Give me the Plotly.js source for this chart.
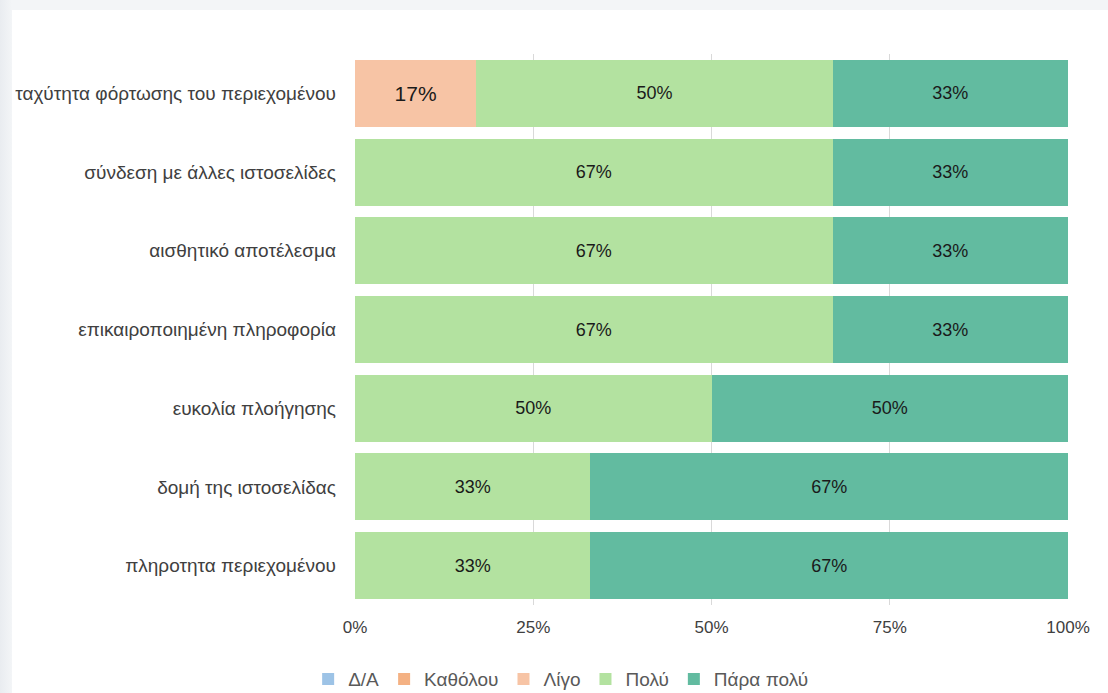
<!DOCTYPE html>
<html><head><meta charset="utf-8">
<script src="https://cdn.plot.ly/plotly-3.0.1.min.js"></script>
<style>
html,body{margin:0;padding:0;width:1108px;height:693px;overflow:hidden;
background:linear-gradient(90deg,#e9ecf0 0px,#f3f5f7 12px,#f3f5f7 100%);}
#card{position:absolute;left:12px;top:10px;width:1096px;height:683px;background:#fff;}
#chart{position:absolute;left:0;top:0;width:1108px;height:693px;}
</style></head><body>
<div id="card"></div>
<div id="chart"></div>
<script>
const categories = [
  "ταχύτητα φόρτωσης του περιεχομένου",
  "σύνδεση με άλλες ιστοσελίδες",
  "αισθητικό αποτέλεσμα",
  "επικαιροποιημένη πληροφορία",
  "ευκολία πλοήγησης",
  "δομή της ιστοσελίδας",
  "πληροτητα περιεχομένου"
];
const seriesNames = ["Δ/Α", "Καθόλου", "Λίγο", "Πολύ", "Πάρα πολύ"];
const valDA      = [0, 0, 0, 0, 0, 0, 0];
const valKatholou= [0, 0, 0, 0, 0, 0, 0];
const valLigo    = [17, 0, 0, 0, 0, 0, 0];
const valPoly    = [50, 67, 67, 67, 50, 33, 33];
const valParaPoly= [33, 33, 33, 33, 50, 67, 67];
const tickVals = [0, 25, 50, 75, 100];
const tickText = ["0%", "25%", "50%", "75%", "100%"];

const colors = ["#9DC3E6", "#F4B183", "#F7C4A5", "#B3E2A0", "#62BBA0"];
const allVals = [valDA, valKatholou, valLigo, valPoly, valParaPoly];

const traces = allVals.map((vals, i) => ({
  type: "bar",
  orientation: "h",
  name: seriesNames[i],
  y: categories,
  x: vals,
  marker: {color: colors[i], line: {width: 0}},
  text: vals.map(v => v > 0 ? v + "%" : ""),
  textposition: "inside",
  insidetextanchor: "middle",
  textfont: {family: "Liberation Sans, Arial, sans-serif", size: vals.map(v => v > 0 && v < 20 ? 21 : 18), color: "#1a1a1a"},
  constraintext: "none",
  hoverinfo: "skip"
}));

const layout = {
  width: 1108, height: 693,
  barmode: "stack",
  bargap: 0.15,
  paper_bgcolor: "rgba(0,0,0,0)",
  plot_bgcolor: "rgba(0,0,0,0)",
  margin: {l: 355, r: 40, t: 54, b: 88},
  font: {family: "Liberation Sans, Arial, sans-serif", color: "#404040"},
  xaxis: {
    range: [0, 100], tickvals: tickVals, ticktext: tickText,
    showgrid: true, gridcolor: "#d9d9d9", gridwidth: 1,
    zeroline: false, showline: false, automargin: false,
    tickfont: {size: 17, color: "#404040"},
    ticks: "", ticklabelstandoff: 10
  },
  yaxis: {
    autorange: "reversed", showgrid: false, zeroline: false, showline: false,
    automargin: false,
    tickfont: {size: 19, color: "#404040"},
    ticks: "", ticklabelstandoff: 18
  },
  showlegend: true,
  legend: {
    orientation: "h", xref: "container", yref: "container",
    x: 0.506, xanchor: "center", y: 0.02, yanchor: "middle",
    font: {size: 19, color: "#595959"}, traceorder: "normal",
    itemwidth: 30, bgcolor: "rgba(0,0,0,0)"
  },
  uniformtext: {mode: false}
};
Plotly.newPlot("chart", traces, layout, {displayModeBar: false, staticPlot: true});
</script></body></html>
